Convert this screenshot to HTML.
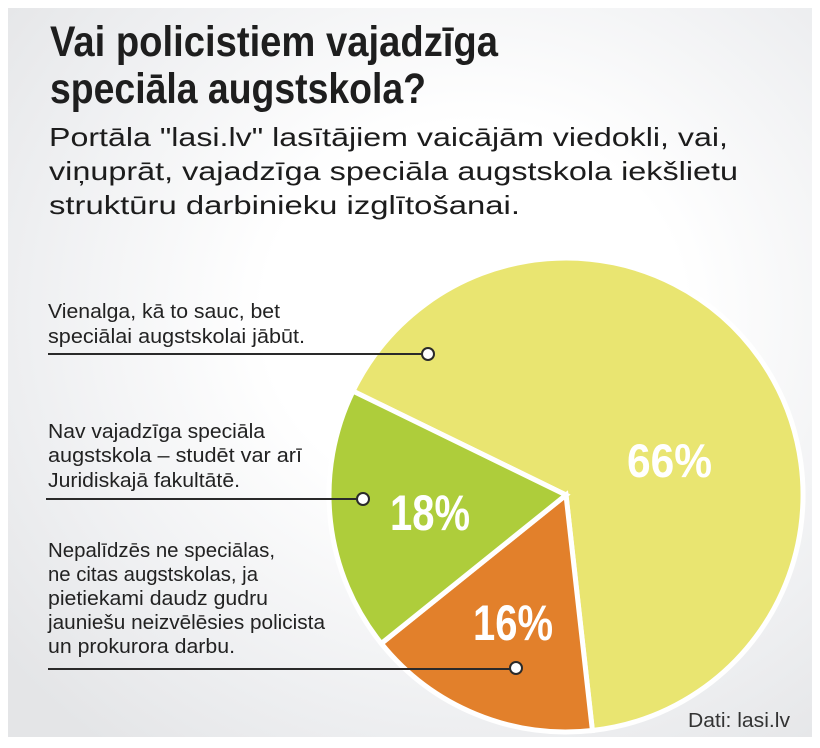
<!DOCTYPE html>
<html>
<head>
<meta charset="utf-8">
<style>
  html,body{margin:0;padding:0;background:#fff;}
  body{width:820px;height:748px;overflow:hidden;position:relative;}
  .panel{position:absolute;left:8px;top:8px;width:804px;height:729px;
    background:radial-gradient(ellipse 75% 75% at 58% 42%, #ffffff 35%, #eeeff1 75%, #e4e5e7 100%);}
  svg{position:absolute;left:0;top:0;}
  .t{font-family:"Liberation Sans",sans-serif;font-weight:bold;fill:#1e1e1e;}
  .s{font-family:"Liberation Sans",sans-serif;fill:#1c1c1c;}
  .l{font-family:"Liberation Sans",sans-serif;fill:#222;}
  .p{font-family:"Liberation Sans",sans-serif;font-weight:bold;fill:#fff;}
</style>
</head>
<body>
<div class="panel"></div>
<svg width="820" height="748" viewBox="0 0 820 748" xmlns="http://www.w3.org/2000/svg">
  <!-- Title -->
  <text class="t" x="50" y="56" font-size="43" textLength="448" lengthAdjust="spacingAndGlyphs">Vai policistiem vajadzīga</text>
  <text class="t" x="50" y="103" font-size="43" textLength="376" lengthAdjust="spacingAndGlyphs">speciāla augstskola?</text>
  <!-- Subtitle -->
  <text class="s" x="49" y="146" font-size="26" textLength="679" lengthAdjust="spacingAndGlyphs">Portāla "lasi.lv" lasītājiem vaicājām viedokli, vai,</text>
  <text class="s" x="49" y="180" font-size="26" textLength="689" lengthAdjust="spacingAndGlyphs">viņuprāt, vajadzīga speciāla augstskola iekšlietu</text>
  <text class="s" x="49" y="214" font-size="26" textLength="471" lengthAdjust="spacingAndGlyphs">struktūru darbinieku izglītošanai.</text>

  <!-- Pie -->
  <g stroke="#ffffff" stroke-width="5" stroke-linejoin="miter">
    <path d="M566,495 L353.0,391.1 A237,237 0 1 1 592.4,730.5 Z" fill="#e9e571"/>
    <path d="M566,495 L592.4,730.5 A237,237 0 0 1 381.3,643.5 Z" fill="#e2802b"/>
    <path d="M566,495 L381.3,643.5 A237,237 0 0 1 353.0,391.1 Z" fill="#aecd3b"/>
  </g>

  <!-- Percent labels -->
  <text class="p" x="627" y="477" font-size="47" textLength="85" lengthAdjust="spacingAndGlyphs">66%</text>
  <text class="p" x="390" y="530" font-size="50" textLength="80" lengthAdjust="spacingAndGlyphs">18%</text>
  <text class="p" x="473" y="640" font-size="50" textLength="80" lengthAdjust="spacingAndGlyphs">16%</text>

  <!-- Label 1 -->
  <text class="l" x="48" y="318" font-size="20" textLength="232" lengthAdjust="spacingAndGlyphs">Vienalga, kā to sauc, bet</text>
  <text class="l" x="48" y="343" font-size="20" textLength="257" lengthAdjust="spacingAndGlyphs">speciālai augstskolai jābūt.</text>
  <line x1="48" y1="354" x2="422" y2="354" stroke="#2a2a2a" stroke-width="2"/>
  <circle cx="428" cy="354" r="6" fill="#fff" stroke="#2a2a2a" stroke-width="2"/>

  <!-- Label 2 -->
  <text class="l" x="48" y="438" font-size="20" textLength="217" lengthAdjust="spacingAndGlyphs">Nav vajadzīga speciāla</text>
  <text class="l" x="48" y="462" font-size="20" textLength="254" lengthAdjust="spacingAndGlyphs">augstskola – studēt var arī</text>
  <text class="l" x="48" y="487" font-size="20" textLength="192" lengthAdjust="spacingAndGlyphs">Juridiskajā fakultātē.</text>
  <line x1="46" y1="499" x2="357" y2="499" stroke="#2a2a2a" stroke-width="2"/>
  <circle cx="363" cy="499" r="6" fill="#fff" stroke="#2a2a2a" stroke-width="2"/>

  <!-- Label 3 -->
  <text class="l" x="48" y="557" font-size="20" textLength="227" lengthAdjust="spacingAndGlyphs">Nepalīdzēs ne speciālas,</text>
  <text class="l" x="48" y="581" font-size="20" textLength="210" lengthAdjust="spacingAndGlyphs">ne citas augstskolas, ja</text>
  <text class="l" x="48" y="605" font-size="20" textLength="220" lengthAdjust="spacingAndGlyphs">pietiekami daudz gudru</text>
  <text class="l" x="48" y="629" font-size="20" textLength="277" lengthAdjust="spacingAndGlyphs">jauniešu neizvēlēsies policista</text>
  <text class="l" x="48" y="653" font-size="20" textLength="187" lengthAdjust="spacingAndGlyphs">un prokurora darbu.</text>
  <line x1="48" y1="669" x2="510" y2="669" stroke="#2a2a2a" stroke-width="2"/>
  <circle cx="516" cy="668" r="6" fill="#fff" stroke="#2a2a2a" stroke-width="2"/>

  <!-- Source -->
  <text class="l" x="688" y="727" font-size="20" textLength="102" lengthAdjust="spacingAndGlyphs" style="fill:#333">Dati: lasi.lv</text>
</svg>
</body>
</html>
